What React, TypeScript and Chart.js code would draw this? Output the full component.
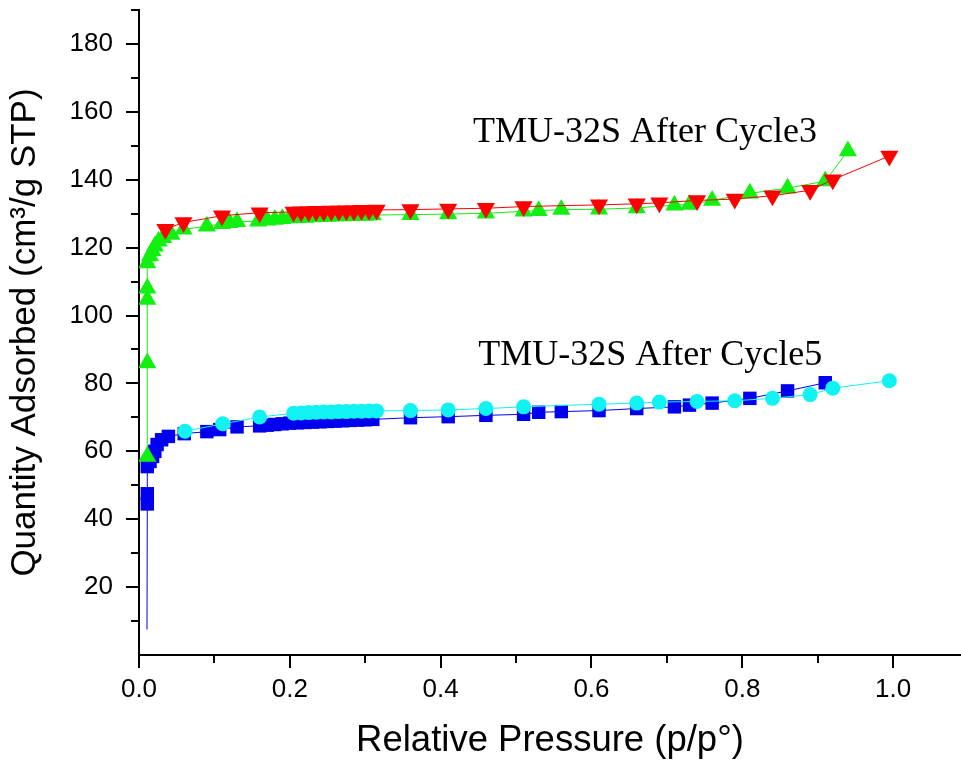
import React, { useEffect, useRef } from 'react';
import { Chart, registerables } from 'chart.js';

Chart.register(...registerables);

// ---- Data ----
// TMU-32S After Cycle3, adsorption (green up-triangles)
const cycle3AdsX = [0.011, 0.011, 0.011, 0.011, 0.011, 0.0146, 0.018, 0.021, 0.026, 0.032, 0.043, 0.059, 0.09, 0.11, 0.12, 0.13, 0.158, 0.17, 0.18, 0.19, 0.2, 0.21, 0.22, 0.23, 0.24, 0.25, 0.26, 0.27, 0.28, 0.29, 0.3, 0.31, 0.36, 0.41, 0.46, 0.51, 0.53, 0.56, 0.61, 0.66, 0.71, 0.73, 0.76, 0.81, 0.86, 0.91, 0.94];
const cycle3AdsY = [58.5, 86, 104.7, 108, 115.5, 117.5, 119, 120.4, 121.9, 122.9, 123.9, 125.4, 126.3, 127, 127.3, 127.6, 127.8, 128.1, 128.3, 128.5, 128.7, 128.8, 128.9, 129.0, 129.1, 129.2, 129.3, 129.3, 129.4, 129.5, 129.5, 129.6, 129.7, 129.9, 130.1, 130.7, 130.9, 131.2, 131.3, 131.7, 132.5, 132.7, 133.9, 136.0, 137.5, 139.6, 148.5];

// TMU-32S After Cycle3, desorption (red down-triangles)
const cycle3DesX = [0.035, 0.059, 0.11, 0.16, 0.205, 0.215, 0.225, 0.235, 0.245, 0.255, 0.265, 0.275, 0.285, 0.295, 0.305, 0.315, 0.36, 0.41, 0.46, 0.51, 0.61, 0.66, 0.69, 0.74, 0.79, 0.84, 0.89, 0.92, 0.995];
const cycle3DesY = [125.4, 127.4, 129.4, 130.3, 130.5, 130.6, 130.6, 130.7, 130.7, 130.8, 130.8, 130.9, 130.9, 131.0, 131.0, 131.1, 131.2, 131.4, 131.6, 132.1, 132.6, 132.9, 133.2, 133.9, 134.3, 135.3, 136.9, 140.0, 147.0];

// TMU-32S After Cycle5, adsorption (blue squares)
const cycle5AdsX = [0.0106, 0.011, 0.011, 0.011, 0.0146, 0.018, 0.021, 0.024, 0.03, 0.039, 0.06, 0.09, 0.107, 0.13, 0.16, 0.17, 0.18, 0.19, 0.2, 0.21, 0.22, 0.23, 0.24, 0.25, 0.26, 0.27, 0.28, 0.29, 0.3, 0.31, 0.36, 0.41, 0.46, 0.51, 0.53, 0.56, 0.61, 0.66, 0.71, 0.73, 0.76, 0.81, 0.86, 0.91];
const cycle5AdsY = [7.5, 44.5, 47.5, 55.5, 57, 58.5, 60, 62, 63.4, 64.4, 65.2, 65.8, 66.4, 67.2, 67.5, 67.7, 67.9, 68.1, 68.3, 68.4, 68.5, 68.6, 68.7, 68.8, 68.9, 69.0, 69.1, 69.2, 69.3, 69.4, 69.9, 70.2, 70.6, 70.9, 71.5, 71.7, 72.0, 72.6, 73.1, 73.6, 74.2, 75.6, 77.8, 80.2];

// TMU-32S After Cycle5, desorption (cyan circles)
const cycle5DesX = [0.061, 0.111, 0.16, 0.205, 0.215, 0.225, 0.235, 0.245, 0.255, 0.265, 0.275, 0.285, 0.295, 0.305, 0.315, 0.36, 0.41, 0.46, 0.51, 0.61, 0.66, 0.69, 0.74, 0.79, 0.84, 0.89, 0.92, 0.995];
const cycle5DesY = [65.9, 68.1, 70.1, 71.2, 71.3, 71.4, 71.5, 71.6, 71.6, 71.7, 71.7, 71.8, 71.8, 71.9, 71.9, 72.0, 72.2, 72.6, 73.1, 73.9, 74.2, 74.5, 74.7, 74.9, 75.6, 76.7, 78.6, 80.8];

// Axis ranges and ticks
const xMin = 0;
const xMax = 1.09;
const xTickStep = 0.2;
const xMinorTicks = [0.1, 0.3, 0.5, 0.7, 0.9];
const yMin = 0;
const yMax = 190;
const yTickStep = 20;
const yMinorTicks = [10, 30, 50, 70, 90, 110, 130, 150, 170, 190];

const xTitle = 'Relative Pressure (p/p°)';
const yTitle = 'Quantity Adsorbed (cm³/g STP)';

// Text labels placed in data coordinates
const annotationTexts = ['TMU-32S After Cycle3', 'TMU-32S After Cycle5'];
const annotationX = [0.671, 0.678];
const annotationY = [154, 88.2];

const toPoints = (xs: number[], ys: number[]) => xs.map((x, i) => ({ x, y: ys[i] }));

const minorTickPlugin = {
  id: 'minorTicks',
  afterDraw(chart: any) {
    const { ctx, chartArea } = chart;
    const xs = chart.scales.x;
    const ys = chart.scales.y;
    ctx.save();
    ctx.strokeStyle = '#000';
    ctx.lineWidth = 2;
    ctx.beginPath();
    xMinorTicks.forEach((v) => {
      const px = Math.round(xs.getPixelForValue(v));
      ctx.moveTo(px, chartArea.bottom);
      ctx.lineTo(px, chartArea.bottom + 8);
    });
    yMinorTicks.forEach((v) => {
      const py = Math.round(ys.getPixelForValue(v));
      ctx.moveTo(chartArea.left - 8, py);
      ctx.lineTo(chartArea.left, py);
    });
    ctx.stroke();
    ctx.restore();
  },
};

const annotationPlugin = {
  id: 'textLabels',
  afterDatasetsDraw(chart: any) {
    const { ctx } = chart;
    const xs = chart.scales.x;
    const ys = chart.scales.y;
    ctx.save();
    ctx.fillStyle = '#000';
    ctx.font = '36px "Liberation Serif", "Times New Roman", serif';
    ctx.textAlign = 'center';
    ctx.textBaseline = 'middle';
    annotationTexts.forEach((t, i) => {
      ctx.fillText(t, xs.getPixelForValue(annotationX[i]), ys.getPixelForValue(annotationY[i]));
    });
    ctx.restore();
  },
};

const green = '#11f011';
const red = '#ff0000';
const blue = '#0000ee';
const cyan = '#11f2f2';

export default function App() {
  const canvasRef = useRef<HTMLCanvasElement | null>(null);

  useEffect(() => {
    if (!canvasRef.current) return;
    const tickFont = { family: '"Liberation Sans", Arial, sans-serif', size: 26 };
    const yTitleFont = { family: '"Liberation Sans", Arial, sans-serif', size: 35 };
    const xTitleFont = { family: '"Liberation Sans", Arial, sans-serif', size: 36.5 };
    const chart = new Chart(canvasRef.current, {
      type: 'scatter',
      data: {
        datasets: [
          {
            label: 'Cycle3 desorption',
            data: toPoints(cycle3DesX, cycle3DesY),
            showLine: true,
            borderColor: red,
            borderWidth: 1,
            backgroundColor: red,
            pointStyle: 'triangle',
            pointRotation: 180,
            pointRadius: 10.5,
            pointBorderWidth: 0,
            pointBackgroundColor: red,
          },
          {
            label: 'Cycle3 adsorption',
            data: toPoints(cycle3AdsX, cycle3AdsY),
            showLine: true,
            borderColor: green,
            borderWidth: 1,
            backgroundColor: green,
            pointStyle: 'triangle',
            pointRadius: 10.5,
            pointBorderWidth: 0,
            pointBackgroundColor: green,
          },
          {
            label: 'Cycle5 desorption',
            data: toPoints(cycle5DesX, cycle5DesY),
            showLine: true,
            borderColor: cyan,
            borderWidth: 1,
            backgroundColor: cyan,
            pointStyle: 'circle',
            pointRadius: 7.5,
            pointBorderWidth: 0,
            pointBackgroundColor: cyan,
          },
          {
            label: 'Cycle5 adsorption',
            data: toPoints(cycle5AdsX, cycle5AdsY),
            showLine: true,
            borderColor: blue,
            borderWidth: 1,
            backgroundColor: blue,
            pointStyle: 'rect',
            pointRadius: cycle5AdsX.map((_, i) => (i === 0 ? 0 : 9.5)),
            pointBorderWidth: 0,
            pointBackgroundColor: blue,
          },
        ],
      },
      options: {
        responsive: false,
        animation: false,
        events: [],
        layout: { autoPadding: false, padding: { top: 10, right: 0, bottom: 0, left: 0 } },
        plugins: {
          legend: { display: false },
          tooltip: { enabled: false },
        },
        scales: {
          x: {
            type: 'linear',
            min: xMin,
            max: xMax,
            afterFit: (s: any) => {
              s.height = 108;
              s.paddingLeft = 0;
              s.paddingRight = 0;
            },
            ticks: {
              stepSize: xTickStep,
              includeBounds: false,
              autoSkip: false,
              maxRotation: 0,
              color: '#000',
              font: tickFont,
              padding: 6,
              callback: (v: any) => Number(v).toFixed(1),
            },
            grid: {
              drawOnChartArea: false,
              drawTicks: true,
              tickLength: 13,
              tickWidth: 2,
              color: '#000',
              lineWidth: 2,
            },
            border: { display: true, color: '#000', width: 2 },
            title: {
              display: true,
              text: xTitle,
              color: '#000',
              font: xTitleFont,
              padding: { top: 0, bottom: 0 },
            },
          },
          y: {
            type: 'linear',
            min: yMin,
            max: yMax,
            afterFit: (s: any) => {
              s.width = 139;
              s.paddingTop = 0;
              s.paddingBottom = 0;
            },
            ticks: {
              stepSize: yTickStep,
              includeBounds: false,
              autoSkip: false,
              color: '#000',
              font: tickFont,
              padding: 13,
              callback: (v: any) => (Number(v) === 0 ? '' : String(v)),
            },
            grid: {
              drawOnChartArea: false,
              drawTicks: true,
              tickLength: 13,
              tickWidth: 2,
              lineWidth: 2,
              color: (c: any) => (c.tick && c.tick.value === 0 ? 'rgba(0,0,0,0)' : '#000'),
            },
            border: { display: true, color: '#000', width: 2 },
            title: {
              display: true,
              text: yTitle,
              color: '#000',
              font: yTitleFont,
              padding: { top: 4, bottom: 0 },
            },
          },
        },
      },
      plugins: [minorTickPlugin, annotationPlugin],
    } as any);
    return () => chart.destroy();
  }, []);

  return (
    <div style={{ position: 'fixed', left: 0, top: 0, width: 961, height: 763, background: '#fff' }}>
      <canvas ref={canvasRef} width={961} height={763} style={{ display: 'block' }} />
    </div>
  );
}
